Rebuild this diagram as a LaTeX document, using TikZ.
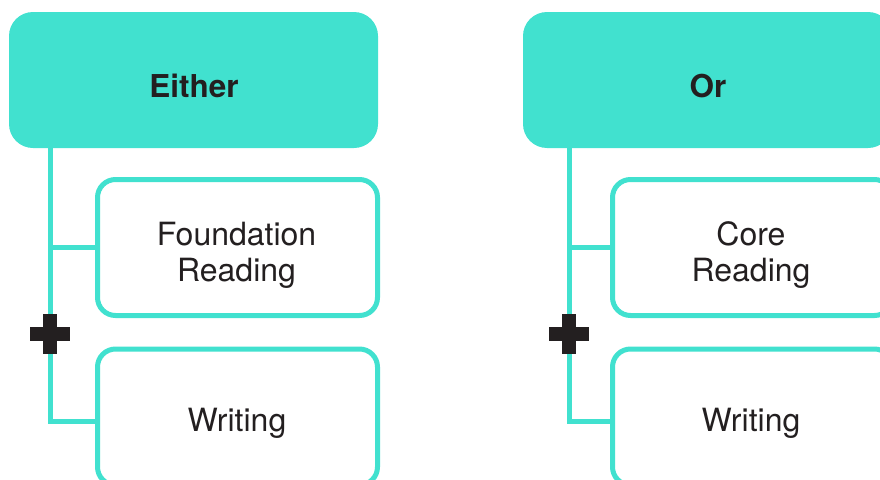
\documentclass[tikz,border=0pt]{standalone}
\usepackage{fontspec}
\setmainfont{TeX Gyre Heros}
\definecolor{teal1}{HTML}{41E1CF}
\definecolor{ink}{HTML}{231F20}
\tikzset{
  hdr/.style={fill=teal1, rounded corners=24pt, minimum width=369pt, minimum height=136pt, inner sep=0pt},
  subbox/.style={draw=teal1, line width=5pt, rounded corners=18pt, minimum width=280pt, minimum height=136pt, fill=white, inner sep=0pt},
  conn/.style={draw=teal1, line width=5pt},
  hdrtext/.style={font=\bfseries\fontsize{31.5}{36}\selectfont, text=ink, anchor=base, inner sep=0pt},
  subtext/.style={font=\fontsize{32}{36.7}\selectfont, text=ink, anchor=base, inner sep=0pt, align=center},
  plussign/.style={minimum size=40pt, inner sep=0pt, path picture={
      \fill[ink] ([xshift=-7pt]path picture bounding box.north) rectangle ([xshift=7pt]path picture bounding box.south);
      \fill[ink] ([yshift=7pt]path picture bounding box.west) rectangle ([yshift=-7pt]path picture bounding box.east);}}
}
\begin{document}
\begin{tikzpicture}[x=1pt,y=-1pt]
\useasboundingbox (0,0) rectangle (880,479);
\clip (0,0) rectangle (880,479);
% left column
\node[hdr] (hdrL) at (193.5,80) {};
\node[subbox] (rdL) at (237.5,247.5) {};
\node[subbox] (wrL) at (237.5,417) {};
\coordinate (lineL) at (50,334);
\draw[conn] (hdrL.south -| lineL) |- ([yshift=-4pt]wrL.west);
\draw[conn] (rdL.west) -- (rdL.west -| lineL);
\node[plussign] (plusL) at (lineL) {};
\node[hdrtext] (tEither) at (194,97.7) {Either};
\node[subtext] (tFound) at (236.5,281.7) {Foundation\\Reading};
\node[subtext] (tWrL) at (237,431.7) {Writing};
% right column
\node[hdr] (hdrR) at (707.5,80) {};
\node[subbox] (rdR) at (752.5,247.5) {};
\node[subbox] (wrR) at (752.5,417) {};
\coordinate (lineR) at (569,334);
\draw[conn] (hdrR.south -| lineR) |- ([yshift=-4pt]wrR.west);
\draw[conn] (rdR.west) -- (rdR.west -| lineR);
\node[plussign] (plusR) at (lineR) {};
\node[hdrtext] (tOr) at (708,97.7) {Or};
\node[subtext] (tCore) at (751,281.7) {Core\\Reading};
\node[subtext] (tWrR) at (751,431.7) {Writing};
\end{tikzpicture}
\end{document}
